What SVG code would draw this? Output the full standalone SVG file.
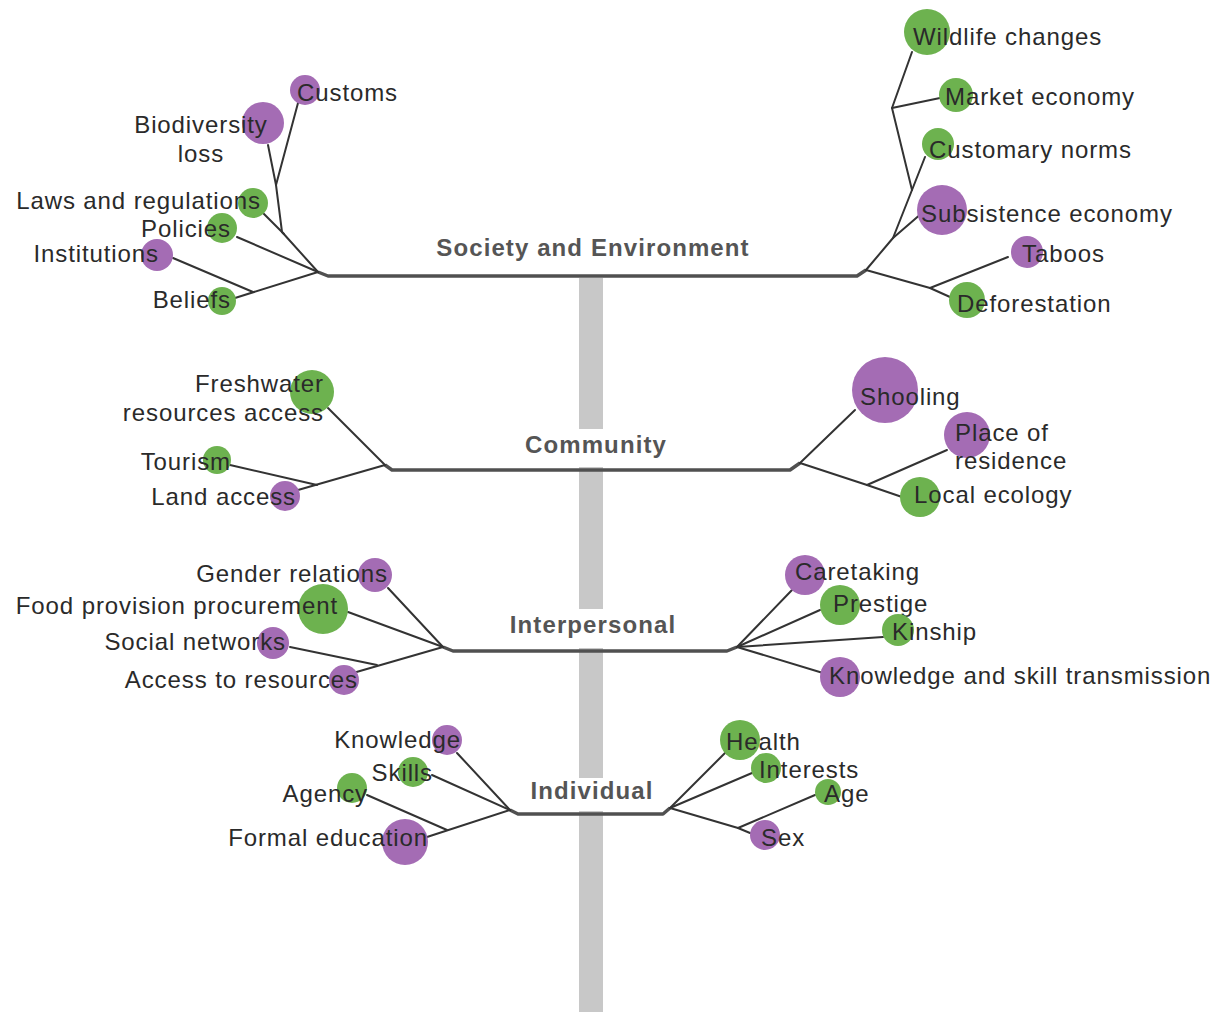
<svg xmlns="http://www.w3.org/2000/svg" width="1229" height="1012" viewBox="0 0 1229 1012">
<style>
.t{font-family:"Liberation Sans",Arial,sans-serif;font-size:24px;letter-spacing:0.9px;fill:#2a2a2a}
.e{text-anchor:end}
.m{text-anchor:middle}
.h{font-family:"Liberation Sans",Arial,sans-serif;font-size:24px;font-weight:bold;letter-spacing:1.1px;fill:#555;text-anchor:middle}
.g{fill:#6db24f}
.p{fill:#a46cb4}
.bar{fill:none;stroke:#505050;stroke-width:3.5;stroke-linejoin:round}
.br{fill:none;stroke:#333;stroke-width:2;stroke-linejoin:round;stroke-linecap:round}
</style>
<rect width="1229" height="1012" fill="#fff"/>
<g id="trunk">
<rect x="579" y="278" width="24" height="734" fill="#c8c8c8"/>
<rect x="520" y="429" width="150" height="38" fill="#fff"/>
<rect x="505" y="609" width="178" height="39" fill="#fff"/>
<rect x="527" y="778" width="130" height="33" fill="#fff"/>
</g>
<g id="connectors">
<path class="bar" d="M318,272 L328,276 L857,276 L866,270"/>
<path class="bar" d="M385,465 L392,470 L790,470 L800,463"/>
<path class="bar" d="M443,647 L453,651 L727,651 L737,647"/>
<path class="bar" d="M510,810 L518,814 L663,814 L670,808"/>
<path class="br" d="M235,298 L318,272"/>
<path class="br" d="M173,258 L253,292"/>
<path class="br" d="M237,237 L318,272"/>
<path class="br" d="M263,213 L284,234"/>
<path class="br" d="M318,272 L282,232 L276,185 L298,103"/>
<path class="br" d="M276,185 L268,145"/>
<path class="br" d="M866,270 L893,238 L912,190 L925,157"/>
<path class="br" d="M893,238 L922,213"/>
<path class="br" d="M912,190 L892,108 L912,52"/>
<path class="br" d="M892,108 L940,98"/>
<path class="br" d="M866,270 L930,288 L950,297"/>
<path class="br" d="M930,288 L1008,257"/>
<path class="br" d="M328,408 L385,465"/>
<path class="br" d="M298,490 L385,465"/>
<path class="br" d="M230,465 L317,485"/>
<path class="br" d="M800,463 L855,410"/>
<path class="br" d="M800,463 L867,485 L902,497"/>
<path class="br" d="M867,485 L947,450"/>
<path class="br" d="M388,588 L443,647"/>
<path class="br" d="M348,612 L443,647"/>
<path class="br" d="M353,673 L443,647"/>
<path class="br" d="M290,647 L377,665"/>
<path class="br" d="M737,647 L792,590"/>
<path class="br" d="M737,647 L820,610"/>
<path class="br" d="M737,647 L883,637"/>
<path class="br" d="M737,647 L823,673"/>
<path class="br" d="M457,753 L510,810"/>
<path class="br" d="M432,775 L510,810"/>
<path class="br" d="M427,837 L510,810"/>
<path class="br" d="M367,795 L447,830"/>
<path class="br" d="M670,808 L725,753"/>
<path class="br" d="M670,808 L752,773"/>
<path class="br" d="M670,808 L738,828 L750,833"/>
<path class="br" d="M738,828 L815,795"/>
</g>
<g id="level-society"><text class="h" x="593" y="256">Society and Environment</text></g>
<g id="level-community"><text class="h" x="596" y="453">Community</text></g>
<g id="level-interpersonal"><text class="h" x="593" y="633">Interpersonal</text></g>
<g id="level-individual"><text class="h" x="592" y="799">Individual</text></g>

<g id="n-customs"><circle class="p" cx="305" cy="90" r="15"/><text class="t" x="297" y="101">Customs</text></g>
<g id="n-biodiversity"><circle class="p" cx="263" cy="123" r="21"/><text class="t m" x="201" y="133">Biodiversity</text><text class="t m" x="201" y="162">loss</text></g>
<g id="n-laws"><circle class="g" cx="253" cy="203" r="15"/><text class="t e" x="261" y="209">Laws and regulations</text></g>
<g id="n-policies"><circle class="g" cx="222" cy="228" r="15"/><text class="t e" x="231" y="237">Policies</text></g>
<g id="n-institutions"><circle class="p" cx="157" cy="255" r="16"/><text class="t e" x="159" y="262">Institutions</text></g>
<g id="n-beliefs"><circle class="g" cx="222" cy="301" r="14"/><text class="t e" x="231" y="308">Beliefs</text></g>

<g id="n-wildlife"><circle class="g" cx="927" cy="32" r="23"/><text class="t" x="913" y="45">Wildlife changes</text></g>
<g id="n-market"><circle class="g" cx="956" cy="95" r="17"/><text class="t" x="945" y="105">Market economy</text></g>
<g id="n-customary"><circle class="g" cx="938" cy="144" r="16"/><text class="t" x="929" y="158">Customary norms</text></g>
<g id="n-subsistence"><circle class="p" cx="942" cy="210" r="25"/><text class="t" x="921" y="222">Subsistence economy</text></g>
<g id="n-taboos"><circle class="p" cx="1027" cy="252" r="16"/><text class="t" x="1022" y="262">Taboos</text></g>
<g id="n-deforestation"><circle class="g" cx="967" cy="300" r="18"/><text class="t" x="957" y="312">Deforestation</text></g>

<g id="n-freshwater"><circle class="g" cx="312" cy="392" r="22"/><text class="t e" x="324" y="392">Freshwater</text><text class="t e" x="324" y="421">resources access</text></g>
<g id="n-tourism"><circle class="g" cx="217" cy="460" r="14"/><text class="t e" x="231" y="470">Tourism</text></g>
<g id="n-land"><circle class="p" cx="285" cy="496" r="15"/><text class="t e" x="296" y="505">Land access</text></g>
<g id="n-shooling"><circle class="p" cx="885" cy="390" r="33"/><text class="t" x="860" y="405">Shooling</text></g>
<g id="n-place"><circle class="p" cx="967" cy="435" r="23"/><text class="t" x="955" y="441">Place of</text><text class="t" x="955" y="469">residence</text></g>
<g id="n-ecology"><circle class="g" cx="920" cy="497" r="20"/><text class="t" x="914" y="503">Local ecology</text></g>

<g id="n-gender"><circle class="p" cx="375" cy="575" r="17"/><text class="t e" x="388" y="582">Gender relations</text></g>
<g id="n-food"><circle class="g" cx="323" cy="609" r="25"/><text class="t e" x="338" y="614">Food provision procurement</text></g>
<g id="n-social"><circle class="p" cx="273" cy="643" r="16"/><text class="t e" x="286" y="650">Social networks</text></g>
<g id="n-access"><circle class="p" cx="344" cy="680" r="15"/><text class="t e" x="358" y="688">Access to resources</text></g>
<g id="n-caretaking"><circle class="p" cx="805" cy="575" r="20"/><text class="t" x="795" y="580">Caretaking</text></g>
<g id="n-prestige"><circle class="g" cx="840" cy="605" r="20"/><text class="t" x="833" y="612">Prestige</text></g>
<g id="n-kinship"><circle class="g" cx="898" cy="630" r="16"/><text class="t" x="892" y="640">Kinship</text></g>
<g id="n-transmission"><circle class="p" cx="840" cy="677" r="20"/><text class="t" x="829" y="684">Knowledge and skill transmission</text></g>

<g id="n-knowledge"><circle class="p" cx="447" cy="740" r="15"/><text class="t e" x="461" y="748">Knowledge</text></g>
<g id="n-skills"><circle class="g" cx="413" cy="772" r="15"/><text class="t e" x="433" y="781">Skills</text></g>
<g id="n-agency"><circle class="g" cx="352" cy="788" r="15"/><text class="t e" x="368" y="802">Agency</text></g>
<g id="n-formal"><circle class="p" cx="405" cy="842" r="23"/><text class="t e" x="428" y="846">Formal education</text></g>
<g id="n-health"><circle class="g" cx="740" cy="740" r="20"/><text class="t" x="726" y="750">Health</text></g>
<g id="n-interests"><circle class="g" cx="766" cy="768" r="15"/><text class="t" x="759" y="778">Interests</text></g>
<g id="n-age"><circle class="g" cx="828" cy="792" r="13"/><text class="t" x="824" y="802">Age</text></g>
<g id="n-sex"><circle class="p" cx="765" cy="835" r="15"/><text class="t" x="761" y="846">Sex</text></g>
</svg>
